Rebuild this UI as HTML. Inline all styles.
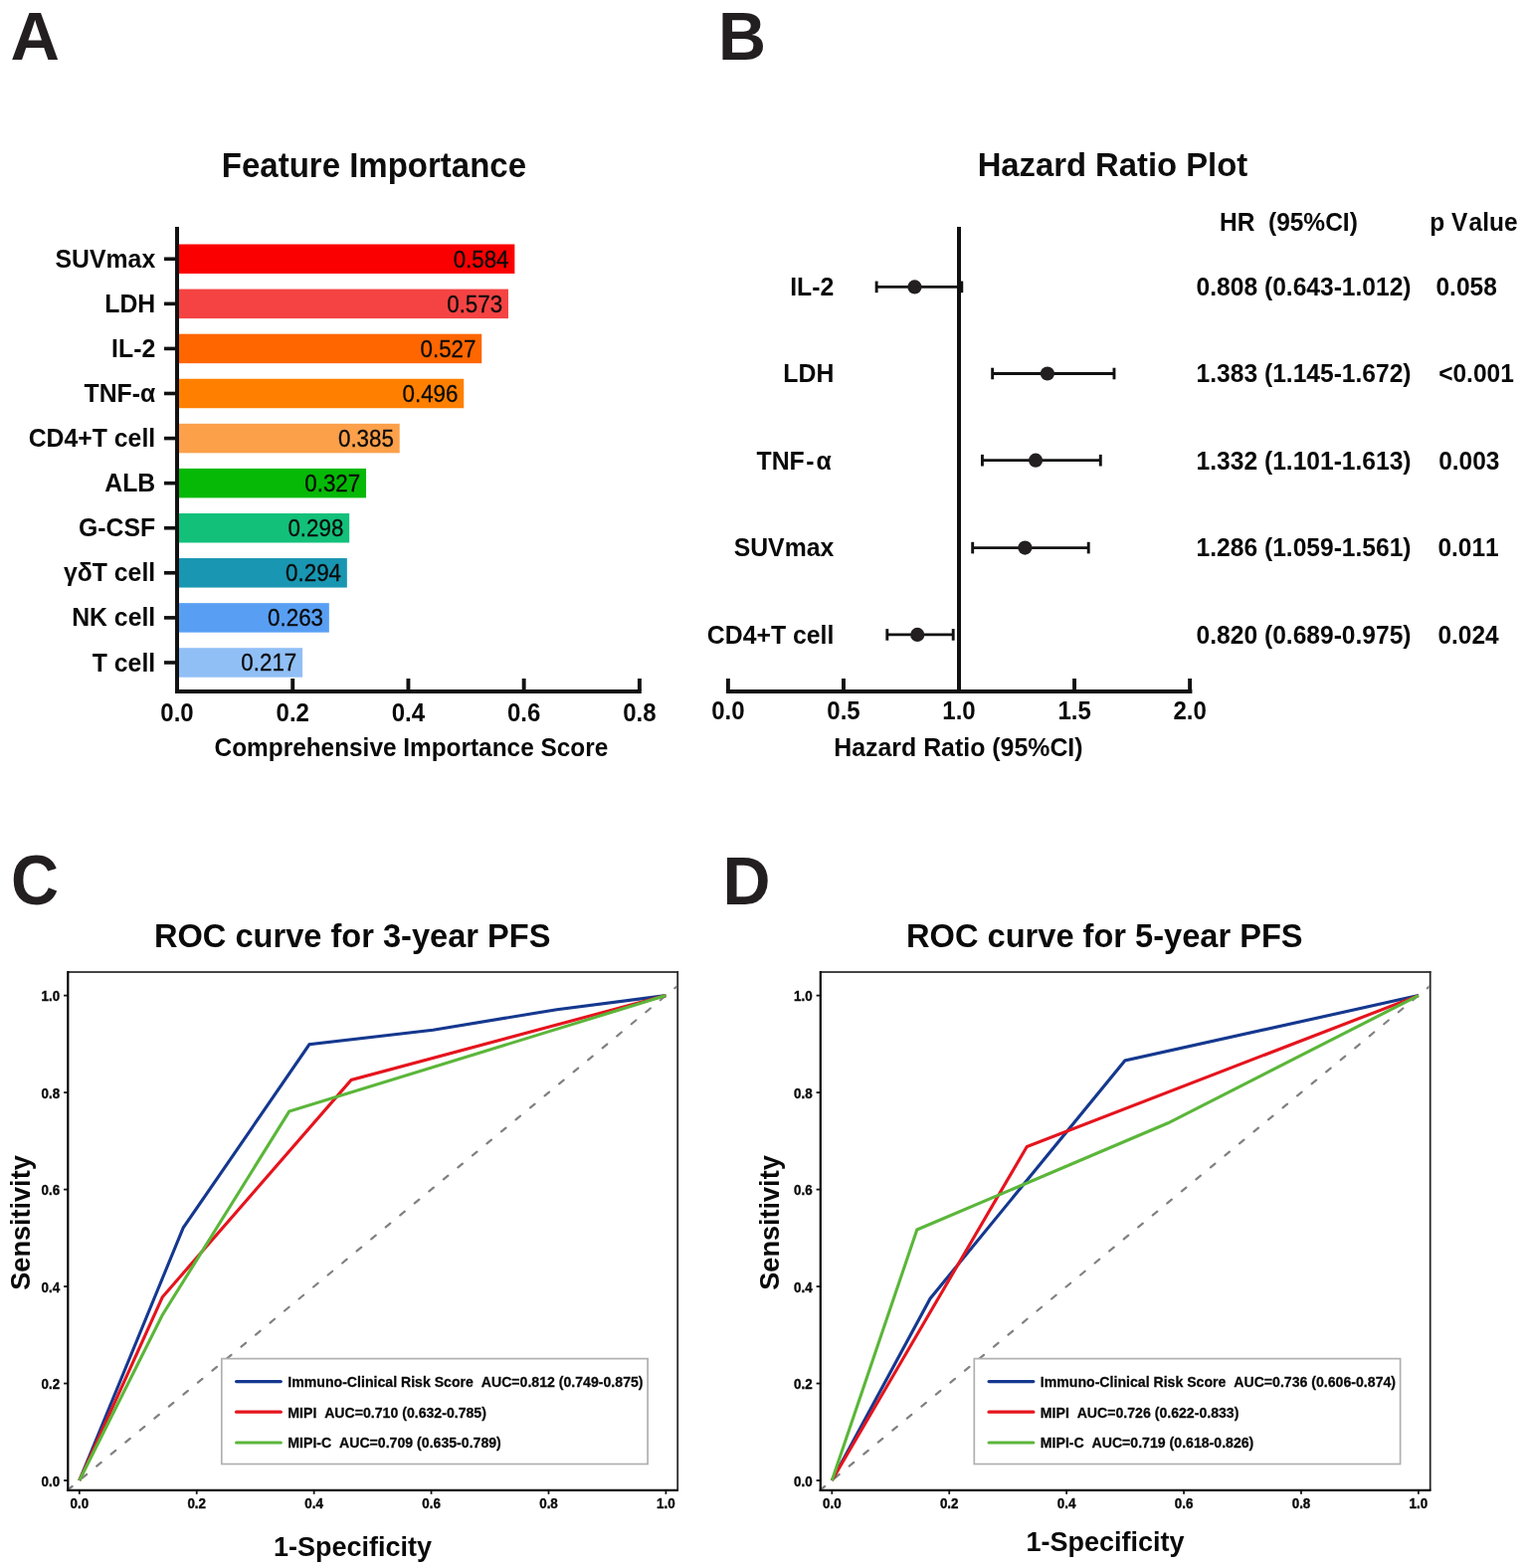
<!DOCTYPE html>
<html><head><meta charset="utf-8"><title>Figure</title>
<style>
html,body{margin:0;padding:0;background:#fff;}
svg{display:block;}
text{font-family:"Liberation Sans", Arial, Helvetica, sans-serif;font-kerning:none;font-feature-settings:"kern" 0;}
</style></head>
<body>
<svg width="1535" height="1576" viewBox="0 0 1535 1576">
<rect width="1535" height="1576" fill="#fff"/>
<text transform="translate(10.40,59.90) scale(1.0300,1.0400)" font-size="66.5" font-weight="bold" text-anchor="start" fill="#231f20" >A</text>
<text transform="translate(722.10,59.70) scale(1.0000,1.0400)" font-size="66.5" font-weight="bold" text-anchor="start" fill="#231f20" >B</text>
<text transform="translate(11.00,909.40) scale(1.0000,1.0500)" font-size="66.5" font-weight="bold" text-anchor="start" fill="#231f20" >C</text>
<text transform="translate(726.40,909.00) scale(1.0000,1.0400)" font-size="66.5" font-weight="bold" text-anchor="start" fill="#231f20" >D</text>
<text transform="translate(375.90,177.60) scale(1.0000,1.0400)" font-size="33" font-weight="bold" text-anchor="middle" fill="#0d0d0d" >Feature Importance</text>
<rect x="180" y="245.50" width="337.36" height="29.5" fill="#fb0000"/>
<text transform="translate(511.56,268.55) scale(0.9720,1.0400)" font-size="23" font-weight="normal" text-anchor="end" fill="#0a0a0a" stroke="#111" stroke-width="0.3">0.584</text>
<text transform="translate(156.20,268.85) scale(1.0000,1.0400)" font-size="24.8" font-weight="bold" text-anchor="end" fill="#0a0a0a" >SUVmax</text>
<rect x="165" y="258.45" width="12" height="3.6" fill="#111"/>
<rect x="180" y="290.58" width="330.97" height="29.5" fill="#f54343"/>
<text transform="translate(505.17,313.63) scale(0.9720,1.0400)" font-size="23" font-weight="normal" text-anchor="end" fill="#0a0a0a" stroke="#111" stroke-width="0.3">0.573</text>
<text transform="translate(156.20,313.93) scale(1.0000,1.0400)" font-size="24.8" font-weight="bold" text-anchor="end" fill="#0a0a0a" >LDH</text>
<rect x="165" y="303.53" width="12" height="3.6" fill="#111"/>
<rect x="180" y="335.66" width="304.24" height="29.5" fill="#ff6600"/>
<text transform="translate(478.44,358.71) scale(0.9720,1.0400)" font-size="23" font-weight="normal" text-anchor="end" fill="#0a0a0a" stroke="#111" stroke-width="0.3">0.527</text>
<text transform="translate(156.20,359.01) scale(1.0000,1.0400)" font-size="24.8" font-weight="bold" text-anchor="end" fill="#0a0a0a" >IL-2</text>
<rect x="165" y="348.61" width="12" height="3.6" fill="#111"/>
<rect x="180" y="380.74" width="286.23" height="29.5" fill="#ff8000"/>
<text transform="translate(460.43,403.79) scale(0.9720,1.0400)" font-size="23" font-weight="normal" text-anchor="end" fill="#0a0a0a" stroke="#111" stroke-width="0.3">0.496</text>
<text transform="translate(156.20,404.09) scale(1.0000,1.0400)" font-size="24.8" font-weight="bold" text-anchor="end" fill="#0a0a0a" >TNF-α</text>
<rect x="165" y="393.69" width="12" height="3.6" fill="#111"/>
<rect x="180" y="425.82" width="221.72" height="29.5" fill="#fca04a"/>
<text transform="translate(395.92,448.87) scale(0.9720,1.0400)" font-size="23" font-weight="normal" text-anchor="end" fill="#0a0a0a" stroke="#111" stroke-width="0.3">0.385</text>
<text transform="translate(156.20,449.17) scale(1.0000,1.0400)" font-size="24.8" font-weight="bold" text-anchor="end" fill="#0a0a0a" >CD4+T cell</text>
<rect x="165" y="438.77" width="12" height="3.6" fill="#111"/>
<rect x="180" y="470.90" width="188.02" height="29.5" fill="#06b906"/>
<text transform="translate(362.22,493.95) scale(0.9720,1.0400)" font-size="23" font-weight="normal" text-anchor="end" fill="#0a0a0a" stroke="#111" stroke-width="0.3">0.327</text>
<text transform="translate(156.20,494.25) scale(1.0000,1.0400)" font-size="24.8" font-weight="bold" text-anchor="end" fill="#0a0a0a" >ALB</text>
<rect x="165" y="483.85" width="12" height="3.6" fill="#111"/>
<rect x="180" y="515.98" width="171.17" height="29.5" fill="#12c07a"/>
<text transform="translate(345.37,539.03) scale(0.9720,1.0400)" font-size="23" font-weight="normal" text-anchor="end" fill="#0a0a0a" stroke="#111" stroke-width="0.3">0.298</text>
<text transform="translate(156.20,539.33) scale(1.0000,1.0400)" font-size="24.8" font-weight="bold" text-anchor="end" fill="#0a0a0a" >G-CSF</text>
<rect x="165" y="528.93" width="12" height="3.6" fill="#111"/>
<rect x="180" y="561.06" width="168.84" height="29.5" fill="#1896b2"/>
<text transform="translate(343.04,584.11) scale(0.9720,1.0400)" font-size="23" font-weight="normal" text-anchor="end" fill="#0a0a0a" stroke="#111" stroke-width="0.3">0.294</text>
<text transform="translate(156.20,584.41) scale(1.0000,1.0400)" font-size="24.8" font-weight="bold" text-anchor="end" fill="#0a0a0a" >γδT cell</text>
<rect x="165" y="574.01" width="12" height="3.6" fill="#111"/>
<rect x="180" y="606.14" width="150.83" height="29.5" fill="#589ff4"/>
<text transform="translate(325.03,629.19) scale(0.9720,1.0400)" font-size="23" font-weight="normal" text-anchor="end" fill="#0a0a0a" stroke="#111" stroke-width="0.3">0.263</text>
<text transform="translate(156.20,629.49) scale(1.0000,1.0400)" font-size="24.8" font-weight="bold" text-anchor="end" fill="#0a0a0a" >NK cell</text>
<rect x="165" y="619.09" width="12" height="3.6" fill="#111"/>
<rect x="180" y="651.22" width="124.10" height="29.5" fill="#90bff6"/>
<text transform="translate(298.30,674.27) scale(0.9720,1.0400)" font-size="23" font-weight="normal" text-anchor="end" fill="#0a0a0a" stroke="#111" stroke-width="0.3">0.217</text>
<text transform="translate(156.20,674.57) scale(1.0000,1.0400)" font-size="24.8" font-weight="bold" text-anchor="end" fill="#0a0a0a" >T cell</text>
<rect x="165" y="664.17" width="12" height="3.6" fill="#111"/>
<rect x="176" y="228" width="4" height="469" fill="#111"/>
<rect x="176" y="693" width="468.8" height="4" fill="#111"/>
<text transform="translate(178.00,724.80) scale(1.0000,1.0400)" font-size="24" font-weight="bold" text-anchor="middle" fill="#0a0a0a" >0.0</text>
<rect x="292.27" y="682" width="3.9" height="12" fill="#111"/>
<text transform="translate(294.22,724.80) scale(1.0000,1.0400)" font-size="24" font-weight="bold" text-anchor="middle" fill="#0a0a0a" >0.2</text>
<rect x="408.49" y="682" width="3.9" height="12" fill="#111"/>
<text transform="translate(410.44,724.80) scale(1.0000,1.0400)" font-size="24" font-weight="bold" text-anchor="middle" fill="#0a0a0a" >0.4</text>
<rect x="524.71" y="682" width="3.9" height="12" fill="#111"/>
<text transform="translate(526.66,724.80) scale(1.0000,1.0400)" font-size="24" font-weight="bold" text-anchor="middle" fill="#0a0a0a" >0.6</text>
<rect x="640.93" y="682" width="3.9" height="12" fill="#111"/>
<text transform="translate(642.88,724.80) scale(1.0000,1.0400)" font-size="24" font-weight="bold" text-anchor="middle" fill="#0a0a0a" >0.8</text>
<text transform="translate(413.40,760.10) scale(1.0000,1.0400)" font-size="24.4" font-weight="bold" text-anchor="middle" fill="#0a0a0a" >Comprehensive Importance Score</text>
<text transform="translate(1118.40,176.50) scale(1.0000,1.0400)" font-size="32.8" font-weight="bold" text-anchor="middle" fill="#0d0d0d" >Hazard Ratio Plot</text>
<rect x="962" y="228" width="4" height="469" fill="#111"/>
<line x1="881.14" y1="288.40" x2="966.79" y2="288.40" stroke="#111" stroke-width="2.8"/>
<line x1="881.14" y1="282.60" x2="881.14" y2="294.20" stroke="#111" stroke-width="2.9"/>
<line x1="966.79" y1="282.60" x2="966.79" y2="294.20" stroke="#111" stroke-width="2.9"/>
<circle cx="919.44" cy="288.40" r="7.1" fill="#231f20"/>
<text transform="translate(838.30,297.20) scale(1.0000,1.0400)" font-size="24.8" font-weight="bold" text-anchor="end" fill="#0a0a0a" >IL-2</text>
<text transform="translate(1202.60,297.20) scale(1.0000,1.0400)" font-size="24.6" font-weight="bold" text-anchor="start" fill="#0a0a0a" >0.808 (0.643-1.012)</text>
<text transform="translate(1443.50,297.20) scale(1.0000,1.0400)" font-size="24.5" font-weight="bold" text-anchor="start" fill="#0a0a0a" >0.058</text>
<line x1="997.65" y1="375.50" x2="1119.97" y2="375.50" stroke="#111" stroke-width="2.8"/>
<line x1="997.65" y1="369.70" x2="997.65" y2="381.30" stroke="#111" stroke-width="2.9"/>
<line x1="1119.97" y1="369.70" x2="1119.97" y2="381.30" stroke="#111" stroke-width="2.9"/>
<circle cx="1052.89" cy="375.50" r="7.1" fill="#231f20"/>
<text transform="translate(838.30,384.30) scale(1.0000,1.0400)" font-size="24.8" font-weight="bold" text-anchor="end" fill="#0a0a0a" >LDH</text>
<text transform="translate(1202.60,384.30) scale(1.0000,1.0400)" font-size="24.6" font-weight="bold" text-anchor="start" fill="#0a0a0a" >1.383 (1.145-1.672)</text>
<text transform="translate(1446.20,384.30) scale(1.0000,1.0400)" font-size="24.5" font-weight="bold" text-anchor="start" fill="#0a0a0a" >&lt;0.001</text>
<line x1="987.44" y1="462.70" x2="1106.28" y2="462.70" stroke="#111" stroke-width="2.8"/>
<line x1="987.44" y1="456.90" x2="987.44" y2="468.50" stroke="#111" stroke-width="2.9"/>
<line x1="1106.28" y1="456.90" x2="1106.28" y2="468.50" stroke="#111" stroke-width="2.9"/>
<circle cx="1041.06" cy="462.70" r="7.1" fill="#231f20"/>
<text transform="translate(835.80,471.50) scale(1.0000,1.0400)" font-size="24.8" font-weight="bold" text-anchor="end" fill="#0a0a0a" >TNF<tspan dx="1.5">-</tspan><tspan dx="2">α</tspan></text>
<text transform="translate(1202.60,471.50) scale(1.0000,1.0400)" font-size="24.6" font-weight="bold" text-anchor="start" fill="#0a0a0a" >1.332 (1.101-1.613)</text>
<text transform="translate(1446.20,471.50) scale(1.0000,1.0400)" font-size="24.5" font-weight="bold" text-anchor="start" fill="#0a0a0a" >0.003</text>
<line x1="977.69" y1="550.60" x2="1094.21" y2="550.60" stroke="#111" stroke-width="2.8"/>
<line x1="977.69" y1="544.80" x2="977.69" y2="556.40" stroke="#111" stroke-width="2.9"/>
<line x1="1094.21" y1="544.80" x2="1094.21" y2="556.40" stroke="#111" stroke-width="2.9"/>
<circle cx="1030.38" cy="550.60" r="7.1" fill="#231f20"/>
<text transform="translate(838.30,559.40) scale(1.0000,1.0400)" font-size="24.8" font-weight="bold" text-anchor="end" fill="#0a0a0a" >SUVmax</text>
<text transform="translate(1202.60,559.40) scale(1.0000,1.0400)" font-size="24.6" font-weight="bold" text-anchor="start" fill="#0a0a0a" >1.286 (1.059-1.561)</text>
<text transform="translate(1445.40,559.40) scale(1.0000,1.0400)" font-size="24.5" font-weight="bold" text-anchor="start" fill="#0a0a0a" >0.011</text>
<line x1="891.82" y1="637.90" x2="958.20" y2="637.90" stroke="#111" stroke-width="2.8"/>
<line x1="891.82" y1="632.10" x2="891.82" y2="643.70" stroke="#111" stroke-width="2.9"/>
<line x1="958.20" y1="632.10" x2="958.20" y2="643.70" stroke="#111" stroke-width="2.9"/>
<circle cx="922.22" cy="637.90" r="7.1" fill="#231f20"/>
<text transform="translate(838.30,646.70) scale(1.0000,1.0400)" font-size="24.8" font-weight="bold" text-anchor="end" fill="#0a0a0a" >CD4+T cell</text>
<text transform="translate(1202.60,646.70) scale(1.0000,1.0400)" font-size="24.6" font-weight="bold" text-anchor="start" fill="#0a0a0a" >0.820 (0.689-0.975)</text>
<text transform="translate(1445.40,646.70) scale(1.0000,1.0400)" font-size="24.5" font-weight="bold" text-anchor="start" fill="#0a0a0a" >0.024</text>
<text transform="translate(1226.00,231.70) scale(1.0000,1.0400)" font-size="24.5" font-weight="bold" text-anchor="start" fill="#0a0a0a" >HR  (95%CI)</text>
<text transform="translate(1437.30,231.70) scale(1.0000,1.0400)" font-size="24.5" font-weight="bold" text-anchor="start" fill="#0a0a0a" >p V<tspan dx="1.2">alue</tspan></text>
<rect x="729.9" y="693" width="468.5" height="4" fill="#111"/>
<rect x="729.95" y="682" width="3.9" height="12" fill="#111"/>
<text transform="translate(731.90,723.30) scale(1.0000,1.0400)" font-size="24" font-weight="bold" text-anchor="middle" fill="#0a0a0a" >0.0</text>
<rect x="846.00" y="682" width="3.9" height="12" fill="#111"/>
<text transform="translate(847.95,723.30) scale(1.0000,1.0400)" font-size="24" font-weight="bold" text-anchor="middle" fill="#0a0a0a" >0.5</text>
<rect x="962.05" y="682" width="3.9" height="12" fill="#111"/>
<text transform="translate(964.00,723.30) scale(1.0000,1.0400)" font-size="24" font-weight="bold" text-anchor="middle" fill="#0a0a0a" >1.0</text>
<rect x="1078.10" y="682" width="3.9" height="12" fill="#111"/>
<text transform="translate(1080.05,723.30) scale(1.0000,1.0400)" font-size="24" font-weight="bold" text-anchor="middle" fill="#0a0a0a" >1.5</text>
<rect x="1194.15" y="682" width="3.9" height="12" fill="#111"/>
<text transform="translate(1196.10,723.30) scale(1.0000,1.0400)" font-size="24" font-weight="bold" text-anchor="middle" fill="#0a0a0a" >2.0</text>
<text transform="translate(963.40,759.90) scale(1.0000,1.0400)" font-size="24.9" font-weight="bold" text-anchor="middle" fill="#0a0a0a" >Hazard Ratio (95%CI)</text>
<text transform="translate(354.20,952.30) scale(1.0000,1.0400)" font-size="32.6" font-weight="bold" text-anchor="middle" fill="#0a0a0a" >ROC curve for 3-year PFS</text>
<clipPath id="clipC"><rect x="69.1" y="978.0" width="610.9" height="518.8"/></clipPath>
<g clip-path="url(#clipC)">
<line x1="68.10" y1="1497.67" x2="686.00" y2="986.88" stroke="#808080" stroke-width="2.2" stroke-linecap="round" stroke-dasharray="5.9 12.95"/>
<polyline points="79.80,1488.00 184.16,1234.06 310.92,1049.83 435.33,1035.21 559.73,1014.73 669.40,1000.60" fill="none" stroke="#15388f" stroke-width="3.1" stroke-linejoin="miter" stroke-linecap="butt"/>
<polyline points="79.80,1488.00 163.23,1303.76 353.08,1085.41 669.40,1000.60" fill="none" stroke="#e5141d" stroke-width="3.1" stroke-linejoin="miter" stroke-linecap="butt"/>
<polyline points="79.80,1488.00 163.23,1321.80 290.70,1117.09 669.40,1000.60" fill="none" stroke="#5bb63a" stroke-width="3.1" stroke-linejoin="miter" stroke-linecap="butt"/>
</g>
<line x1="68.10" y1="977.00" x2="681.90" y2="977.00" stroke="#454545" stroke-width="1.9"/>
<line x1="681.20" y1="976.10" x2="681.20" y2="1497.80" stroke="#282828" stroke-width="1.8"/>
<line x1="68.30" y1="976.10" x2="68.30" y2="1498.90" stroke="#050505" stroke-width="2.2"/>
<line x1="67.20" y1="1497.80" x2="682.00" y2="1497.80" stroke="#050505" stroke-width="2.3"/>
<line x1="64.10" y1="1488.00" x2="68.10" y2="1488.00" stroke="#111" stroke-width="1.8"/>
<text transform="translate(60.10,1493.60) scale(1.0000,1.0400)" font-size="13.4" font-weight="bold" text-anchor="end" fill="#0a0a0a" stroke="#0a0a0a" stroke-width="0.35">0.0</text>
<line x1="79.80" y1="1497.80" x2="79.80" y2="1501.80" stroke="#111" stroke-width="1.8"/>
<text transform="translate(79.80,1515.70) scale(1.0000,1.0400)" font-size="13.4" font-weight="bold" text-anchor="middle" fill="#0a0a0a" stroke="#0a0a0a" stroke-width="0.35">0.0</text>
<line x1="64.10" y1="1390.52" x2="68.10" y2="1390.52" stroke="#111" stroke-width="1.8"/>
<text transform="translate(60.10,1396.12) scale(1.0000,1.0400)" font-size="13.4" font-weight="bold" text-anchor="end" fill="#0a0a0a" stroke="#0a0a0a" stroke-width="0.35">0.2</text>
<line x1="197.72" y1="1497.80" x2="197.72" y2="1501.80" stroke="#111" stroke-width="1.8"/>
<text transform="translate(197.72,1515.70) scale(1.0000,1.0400)" font-size="13.4" font-weight="bold" text-anchor="middle" fill="#0a0a0a" stroke="#0a0a0a" stroke-width="0.35">0.2</text>
<line x1="64.10" y1="1293.04" x2="68.10" y2="1293.04" stroke="#111" stroke-width="1.8"/>
<text transform="translate(60.10,1298.64) scale(1.0000,1.0400)" font-size="13.4" font-weight="bold" text-anchor="end" fill="#0a0a0a" stroke="#0a0a0a" stroke-width="0.35">0.4</text>
<line x1="315.64" y1="1497.80" x2="315.64" y2="1501.80" stroke="#111" stroke-width="1.8"/>
<text transform="translate(315.64,1515.70) scale(1.0000,1.0400)" font-size="13.4" font-weight="bold" text-anchor="middle" fill="#0a0a0a" stroke="#0a0a0a" stroke-width="0.35">0.4</text>
<line x1="64.10" y1="1195.56" x2="68.10" y2="1195.56" stroke="#111" stroke-width="1.8"/>
<text transform="translate(60.10,1201.16) scale(1.0000,1.0400)" font-size="13.4" font-weight="bold" text-anchor="end" fill="#0a0a0a" stroke="#0a0a0a" stroke-width="0.35">0.6</text>
<line x1="433.56" y1="1497.80" x2="433.56" y2="1501.80" stroke="#111" stroke-width="1.8"/>
<text transform="translate(433.56,1515.70) scale(1.0000,1.0400)" font-size="13.4" font-weight="bold" text-anchor="middle" fill="#0a0a0a" stroke="#0a0a0a" stroke-width="0.35">0.6</text>
<line x1="64.10" y1="1098.08" x2="68.10" y2="1098.08" stroke="#111" stroke-width="1.8"/>
<text transform="translate(60.10,1103.68) scale(1.0000,1.0400)" font-size="13.4" font-weight="bold" text-anchor="end" fill="#0a0a0a" stroke="#0a0a0a" stroke-width="0.35">0.8</text>
<line x1="551.48" y1="1497.80" x2="551.48" y2="1501.80" stroke="#111" stroke-width="1.8"/>
<text transform="translate(551.48,1515.70) scale(1.0000,1.0400)" font-size="13.4" font-weight="bold" text-anchor="middle" fill="#0a0a0a" stroke="#0a0a0a" stroke-width="0.35">0.8</text>
<line x1="64.10" y1="1000.60" x2="68.10" y2="1000.60" stroke="#111" stroke-width="1.8"/>
<text transform="translate(60.10,1006.20) scale(1.0000,1.0400)" font-size="13.4" font-weight="bold" text-anchor="end" fill="#0a0a0a" stroke="#0a0a0a" stroke-width="0.35">1.0</text>
<line x1="669.40" y1="1497.80" x2="669.40" y2="1501.80" stroke="#111" stroke-width="1.8"/>
<text transform="translate(669.40,1515.70) scale(1.0000,1.0400)" font-size="13.4" font-weight="bold" text-anchor="middle" fill="#0a0a0a" stroke="#0a0a0a" stroke-width="0.35">1.0</text>
<text transform="translate(29.90,1229.00) rotate(-90) scale(1.0000,1.0400)" font-size="27.1" font-weight="bold" text-anchor="middle" fill="#0a0a0a" >Sensitivity</text>
<text transform="translate(354.40,1563.90) scale(1.0000,1.0400)" font-size="27" font-weight="bold" text-anchor="middle" fill="#0a0a0a" >1-Specificity</text>
<rect x="222.80" y="1365.6" width="428.3" height="105.9" fill="#fff" stroke="#b0b0b0" stroke-width="1.7"/>
<line x1="237.60" y1="1388.60" x2="282.30" y2="1388.60" stroke="#15388f" stroke-width="3.2" stroke-linecap="round"/>
<text transform="translate(289.30,1393.90) scale(1.0620,1.0500)" font-size="13.3" font-weight="bold" text-anchor="start" fill="#0a0a0a" style="white-space:pre" stroke="#0a0a0a" stroke-width="0.25">Immuno-Clinical Risk Score  AUC=0.812 (0.749-0.875)</text>
<line x1="237.60" y1="1419.20" x2="282.30" y2="1419.20" stroke="#e5141d" stroke-width="3.2" stroke-linecap="round"/>
<text transform="translate(289.30,1424.50) scale(1.0620,1.0500)" font-size="13.3" font-weight="bold" text-anchor="start" fill="#0a0a0a" style="white-space:pre" stroke="#0a0a0a" stroke-width="0.25">MIPI  AUC=0.710 (0.632-0.785)</text>
<line x1="237.60" y1="1450.00" x2="282.30" y2="1450.00" stroke="#5bb63a" stroke-width="3.2" stroke-linecap="round"/>
<text transform="translate(289.30,1455.30) scale(1.0620,1.0500)" font-size="13.3" font-weight="bold" text-anchor="start" fill="#0a0a0a" style="white-space:pre" stroke="#0a0a0a" stroke-width="0.25">MIPI-C  AUC=0.709 (0.635-0.789)</text>
<text transform="translate(1110.30,951.50) scale(1.0000,1.0400)" font-size="32.6" font-weight="bold" text-anchor="middle" fill="#0a0a0a" >ROC curve for 5-year PFS</text>
<clipPath id="clipD"><rect x="825.6" y="978.0" width="610.9" height="518.8"/></clipPath>
<g clip-path="url(#clipD)">
<line x1="824.60" y1="1497.67" x2="1442.50" y2="986.88" stroke="#808080" stroke-width="2.2" stroke-linecap="round" stroke-dasharray="5.9 12.95"/>
<polyline points="836.30,1488.00 935.06,1305.22 1130.86,1065.91 1425.90,1000.60" fill="none" stroke="#15388f" stroke-width="3.1" stroke-linejoin="miter" stroke-linecap="butt"/>
<polyline points="836.30,1488.00 1032.28,1152.43 1425.90,1000.60" fill="none" stroke="#e5141d" stroke-width="3.1" stroke-linejoin="miter" stroke-linecap="butt"/>
<polyline points="836.30,1488.00 921.79,1236.01 1174.14,1128.79 1425.90,1000.60" fill="none" stroke="#5bb63a" stroke-width="3.1" stroke-linejoin="miter" stroke-linecap="butt"/>
</g>
<line x1="824.60" y1="977.00" x2="1438.40" y2="977.00" stroke="#454545" stroke-width="1.9"/>
<line x1="1437.70" y1="976.10" x2="1437.70" y2="1497.80" stroke="#282828" stroke-width="1.8"/>
<line x1="824.80" y1="976.10" x2="824.80" y2="1498.90" stroke="#050505" stroke-width="2.2"/>
<line x1="823.70" y1="1497.80" x2="1438.50" y2="1497.80" stroke="#050505" stroke-width="2.3"/>
<line x1="820.60" y1="1488.00" x2="824.60" y2="1488.00" stroke="#111" stroke-width="1.8"/>
<text transform="translate(816.60,1493.60) scale(1.0000,1.0400)" font-size="13.4" font-weight="bold" text-anchor="end" fill="#0a0a0a" stroke="#0a0a0a" stroke-width="0.35">0.0</text>
<line x1="836.30" y1="1497.80" x2="836.30" y2="1501.80" stroke="#111" stroke-width="1.8"/>
<text transform="translate(836.30,1515.70) scale(1.0000,1.0400)" font-size="13.4" font-weight="bold" text-anchor="middle" fill="#0a0a0a" stroke="#0a0a0a" stroke-width="0.35">0.0</text>
<line x1="820.60" y1="1390.52" x2="824.60" y2="1390.52" stroke="#111" stroke-width="1.8"/>
<text transform="translate(816.60,1396.12) scale(1.0000,1.0400)" font-size="13.4" font-weight="bold" text-anchor="end" fill="#0a0a0a" stroke="#0a0a0a" stroke-width="0.35">0.2</text>
<line x1="954.22" y1="1497.80" x2="954.22" y2="1501.80" stroke="#111" stroke-width="1.8"/>
<text transform="translate(954.22,1515.70) scale(1.0000,1.0400)" font-size="13.4" font-weight="bold" text-anchor="middle" fill="#0a0a0a" stroke="#0a0a0a" stroke-width="0.35">0.2</text>
<line x1="820.60" y1="1293.04" x2="824.60" y2="1293.04" stroke="#111" stroke-width="1.8"/>
<text transform="translate(816.60,1298.64) scale(1.0000,1.0400)" font-size="13.4" font-weight="bold" text-anchor="end" fill="#0a0a0a" stroke="#0a0a0a" stroke-width="0.35">0.4</text>
<line x1="1072.14" y1="1497.80" x2="1072.14" y2="1501.80" stroke="#111" stroke-width="1.8"/>
<text transform="translate(1072.14,1515.70) scale(1.0000,1.0400)" font-size="13.4" font-weight="bold" text-anchor="middle" fill="#0a0a0a" stroke="#0a0a0a" stroke-width="0.35">0.4</text>
<line x1="820.60" y1="1195.56" x2="824.60" y2="1195.56" stroke="#111" stroke-width="1.8"/>
<text transform="translate(816.60,1201.16) scale(1.0000,1.0400)" font-size="13.4" font-weight="bold" text-anchor="end" fill="#0a0a0a" stroke="#0a0a0a" stroke-width="0.35">0.6</text>
<line x1="1190.06" y1="1497.80" x2="1190.06" y2="1501.80" stroke="#111" stroke-width="1.8"/>
<text transform="translate(1190.06,1515.70) scale(1.0000,1.0400)" font-size="13.4" font-weight="bold" text-anchor="middle" fill="#0a0a0a" stroke="#0a0a0a" stroke-width="0.35">0.6</text>
<line x1="820.60" y1="1098.08" x2="824.60" y2="1098.08" stroke="#111" stroke-width="1.8"/>
<text transform="translate(816.60,1103.68) scale(1.0000,1.0400)" font-size="13.4" font-weight="bold" text-anchor="end" fill="#0a0a0a" stroke="#0a0a0a" stroke-width="0.35">0.8</text>
<line x1="1307.98" y1="1497.80" x2="1307.98" y2="1501.80" stroke="#111" stroke-width="1.8"/>
<text transform="translate(1307.98,1515.70) scale(1.0000,1.0400)" font-size="13.4" font-weight="bold" text-anchor="middle" fill="#0a0a0a" stroke="#0a0a0a" stroke-width="0.35">0.8</text>
<line x1="820.60" y1="1000.60" x2="824.60" y2="1000.60" stroke="#111" stroke-width="1.8"/>
<text transform="translate(816.60,1006.20) scale(1.0000,1.0400)" font-size="13.4" font-weight="bold" text-anchor="end" fill="#0a0a0a" stroke="#0a0a0a" stroke-width="0.35">1.0</text>
<line x1="1425.90" y1="1497.80" x2="1425.90" y2="1501.80" stroke="#111" stroke-width="1.8"/>
<text transform="translate(1425.90,1515.70) scale(1.0000,1.0400)" font-size="13.4" font-weight="bold" text-anchor="middle" fill="#0a0a0a" stroke="#0a0a0a" stroke-width="0.35">1.0</text>
<text transform="translate(783.00,1229.00) rotate(-90) scale(1.0000,1.0400)" font-size="27.1" font-weight="bold" text-anchor="middle" fill="#0a0a0a" >Sensitivity</text>
<text transform="translate(1110.90,1559.00) scale(1.0000,1.0400)" font-size="27" font-weight="bold" text-anchor="middle" fill="#0a0a0a" >1-Specificity</text>
<rect x="979.30" y="1365.6" width="428.3" height="105.9" fill="#fff" stroke="#b0b0b0" stroke-width="1.7"/>
<line x1="994.10" y1="1388.60" x2="1038.80" y2="1388.60" stroke="#15388f" stroke-width="3.2" stroke-linecap="round"/>
<text transform="translate(1045.80,1393.90) scale(1.0620,1.0500)" font-size="13.3" font-weight="bold" text-anchor="start" fill="#0a0a0a" style="white-space:pre" stroke="#0a0a0a" stroke-width="0.25">Immuno-Clinical Risk Score  AUC=0.736 (0.606-0.874)</text>
<line x1="994.10" y1="1419.20" x2="1038.80" y2="1419.20" stroke="#e5141d" stroke-width="3.2" stroke-linecap="round"/>
<text transform="translate(1045.80,1424.50) scale(1.0620,1.0500)" font-size="13.3" font-weight="bold" text-anchor="start" fill="#0a0a0a" style="white-space:pre" stroke="#0a0a0a" stroke-width="0.25">MIPI  AUC=0.726 (0.622-0.833)</text>
<line x1="994.10" y1="1450.00" x2="1038.80" y2="1450.00" stroke="#5bb63a" stroke-width="3.2" stroke-linecap="round"/>
<text transform="translate(1045.80,1455.30) scale(1.0620,1.0500)" font-size="13.3" font-weight="bold" text-anchor="start" fill="#0a0a0a" style="white-space:pre" stroke="#0a0a0a" stroke-width="0.25">MIPI-C  AUC=0.719 (0.618-0.826)</text>
</svg>
</body></html>
